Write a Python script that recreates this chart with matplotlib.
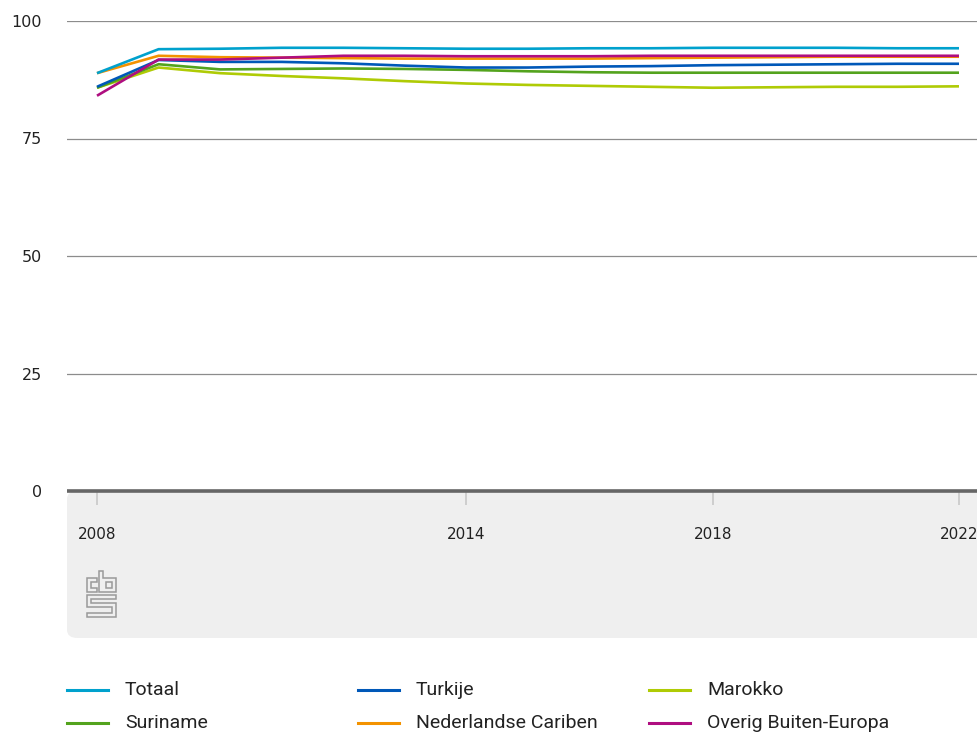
import matplotlib
matplotlib.use("Agg")
import matplotlib.pyplot as plt
from matplotlib.lines import Line2D
from matplotlib.patches import FancyBboxPatch, Polygon, Rectangle

years = list(range(2008, 2023))
totaal = [88.9, 94.0, 94.1, 94.3, 94.3, 94.2, 94.1, 94.1, 94.2, 94.2, 94.3, 94.3, 94.3, 94.2, 94.2]
turkije = [86.0, 91.7, 91.3, 91.3, 91.0, 90.5, 90.1, 90.1, 90.3, 90.4, 90.6, 90.7, 90.8, 90.9, 90.9]
marokko = [85.8, 90.1, 88.9, 88.3, 87.8, 87.2, 86.7, 86.4, 86.2, 86.0, 85.8, 85.9, 86.0, 86.0, 86.1]
suriname = [85.8, 90.8, 89.7, 89.8, 89.9, 89.8, 89.6, 89.3, 89.1, 89.0, 89.0, 89.0, 89.0, 89.0, 89.0]
cariben = [88.9, 92.6, 92.3, 92.2, 92.1, 92.0, 92.0, 92.0, 92.0, 92.1, 92.2, 92.3, 92.4, 92.4, 92.4]
overig = [84.1, 91.8, 91.8, 92.2, 92.6, 92.6, 92.5, 92.5, 92.5, 92.6, 92.6, 92.6, 92.6, 92.6, 92.6]

series_names = ["Totaal", "Turkije", "Marokko", "Suriname", "Nederlandse Cariben", "Overig Buiten-Europa"]
series_values = [totaal, turkije, marokko, suriname, cariben, overig]
series_colors = ["#00a1cd", "#0058b8", "#afcb05", "#53a31d", "#f39200", "#af0e80"]

y_ticks = [0, 25, 50, 75, 100]
x_ticks = [2008, 2014, 2018, 2022]

W, H = 977, 735
fig = plt.figure(figsize=(W / 100, H / 100), dpi=100)

def fx(x):
    return x / W

def fy(y):
    return 1 - y / H

# gray panel under the axis
panel = FancyBboxPatch((fx(67), fy(638)), fx(1040) - fx(67), fy(491) - fy(638),
                       boxstyle="round,pad=0,rounding_size=0.011", transform=fig.transFigure,
                       facecolor="#efefef", edgecolor="none", zorder=-5)
fig.patches.append(panel)

ax = fig.add_axes([fx(67), fy(491), 1 - fx(67), fy(21) - fy(491)])
ax.set_zorder(1)
ax.patch.set_alpha(0)

# draw order: bottom to top
draw_order = [2, 3, 1, 4, 5, 0]
for i in draw_order:
    ax.plot(years, series_values[i], color=series_colors[i], lw=1.9, zorder=3, solid_capstyle="butt")

ax.set_ylim(0, 100)
ax.set_xlim(2008 - 30 / 61.57, 2022 + 18 / 61.57)
ax.set_yticks(y_ticks)
ax.set_yticklabels([str(v) for v in y_ticks])
ax.set_xticks(x_ticks)
ax.set_xticklabels([str(v) for v in x_ticks])
for v in y_ticks[1:]:
    ax.axhline(v, color="#8c8c8c", lw=0.9, zorder=1)
ax.axhline(0, color="#666666", lw=2.6, zorder=4, clip_on=False, solid_capstyle="butt")

for s in ax.spines.values():
    s.set_visible(False)
ax.tick_params(axis="y", length=0, pad=18, labelsize=11.5, labelcolor="#222222")
ax.tick_params(axis="x", length=10, width=1.2, color="#c8c8c8", pad=16, labelsize=11, labelcolor="#222222")
ax.grid(False)

# CBS logo
lc = "#9a9a9a"
c_shape = [(87, 578), (97, 578), (97, 582), (91, 582), (91, 588), (97, 588), (97, 592), (87, 592)]
b_shape = [(99, 571), (103, 571), (103, 578), (116, 578), (116, 592), (99, 592)]
s_shape = [(87, 595), (116, 595), (116, 599), (91, 599), (91, 603), (116, 603), (116, 617), (87, 617),
           (87, 613), (112, 613), (112, 607), (87, 607)]
for shp in (c_shape, b_shape, s_shape):
    fig.patches.append(Polygon([(fx(x), fy(y)) for x, y in shp], closed=True, transform=fig.transFigure,
                               facecolor="none", edgecolor=lc, lw=1.1, zorder=2))
fig.patches.append(Rectangle((fx(106), fy(588)), fx(112) - fx(106), fy(582) - fy(588), transform=fig.transFigure,
                             facecolor="none", edgecolor=lc, lw=1.1, zorder=2))

# legend (manual)
leg_font = ["Roboto", "DejaVu Sans"]
col_x = [67, 358, 649]
row_y = [690, 723]
for k, (name, color) in enumerate(zip(series_names, series_colors)):
    r, c = divmod(k, 3)
    x0, y0 = col_x[c], row_y[r]
    fig.add_artist(Line2D([fx(x0), fx(x0 + 41)], [fy(y0), fy(y0)], color=color, lw=2.2,
                          transform=fig.transFigure))
    fig.text(fx(x0 + 58), fy(y0), name, fontsize=14, family=leg_font, color="#222222",
             va="center", ha="left")

fig.savefig("out.png", dpi=100)
